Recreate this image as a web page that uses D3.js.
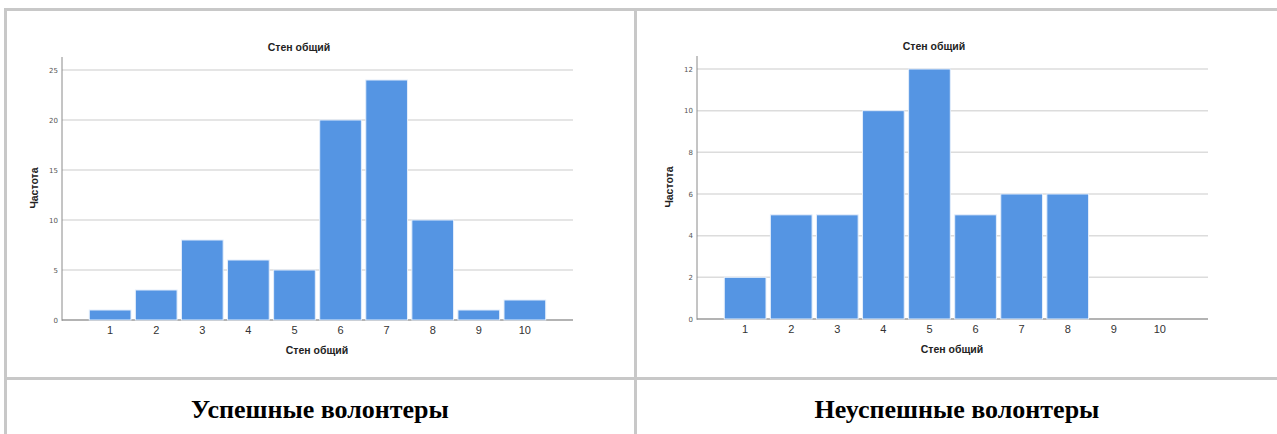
<!DOCTYPE html>
<html><head><meta charset="utf-8">
<script src="https://cdn.jsdelivr.net/npm/d3@7/dist/d3.min.js"></script>
<style>
html,body{margin:0;padding:0;background:#fff;}
svg{display:block;}
</style></head>
<body>
<svg id="c" width="1277" height="434"></svg>
<script>
const categories = ["1","2","3","4","5","6","7","8","9","10"];
const successValues = [1,3,8,6,5,20,24,10,1,2];
const failValues = [2,5,5,10,12,5,6,6,0,0];
const successTicks = [0,5,10,15,20,25];
const failTicks = [0,2,4,6,8,10,12];
const chartTitle = "Стен общий";
const yTitle = "Частота";
const panelLabels = ["Успешные волонтеры","Неуспешные волонтеры"];

const svg = d3.select("#c");
const border = "#c8c8c8";

// table borders
svg.append("rect").attr("x",4).attr("y",8).attr("width",1280).attr("height",3).attr("fill",border);
svg.append("rect").attr("x",4).attr("y",8).attr("width",3).attr("height",440).attr("fill",border);
svg.append("rect").attr("x",634).attr("y",8).attr("width",3).attr("height",440).attr("fill",border);
svg.append("rect").attr("x",4).attr("y",377).attr("width",1280).attr("height",3).attr("fill",border);

function drawChart(dx, dy, values, ticks, yMax, label) {
  const g = svg.append("g").attr("transform",`translate(${dx},${dy})`);
  const x = d3.scaleBand().domain(categories).range([87.1,547.9]).paddingInner(0.095).paddingOuter(0.0475);
  const y = d3.scaleLinear().domain([0,yMax]).range([320,70]);

  // gridlines
  g.selectAll("line.grid").data(ticks.filter(t=>t>0)).enter().append("line")
    .attr("x1",62).attr("x2",573).attr("y1",d=>y(d)).attr("y2",d=>y(d))
    .attr("stroke","#dcdcdc").attr("stroke-width",1.5);

  // baseline
  g.append("line").attr("x1",62).attr("x2",573).attr("y1",y(0)).attr("y2",y(0))
    .attr("stroke","#9a9a9a").attr("stroke-width",1.5);

  // y axis
  const yAxis = d3.axisLeft(y).tickValues(ticks).tickSize(0).tickPadding(4);
  const ya = g.append("g").attr("transform","translate(62,0)").call(yAxis);
  ya.select(".domain").remove();
  ya.selectAll("text").attr("font-family","DejaVu Sans, sans-serif").attr("font-size",7).attr("fill","#555");
  g.append("line").attr("x1",62).attr("x2",62).attr("y1",57).attr("y2",y(0)+0.75)
    .attr("stroke","#8a8a8a").attr("stroke-width",1);

  // bars
  g.selectAll("rect.bar").data(values).enter().append("rect")
    .attr("x",(d,i)=>x(categories[i]))
    .attr("width",x.bandwidth())
    .attr("y",d=>y(d))
    .attr("height",d=>y(0)-y(d))
    .attr("fill","#5595e3")
    .attr("stroke","#e4eefb").attr("stroke-width",1);

  // x axis labels
  const xAxis = d3.axisBottom(x).tickSize(0).tickPadding(6);
  const xa = g.append("g").attr("transform",`translate(0,${y(0)})`).call(xAxis);
  xa.select(".domain").remove();
  xa.selectAll("text").attr("font-family","Liberation Sans, sans-serif").attr("font-size",11).attr("fill","#333");

  // titles
  g.append("text").attr("x",299).attr("y",51).attr("text-anchor","middle")
    .attr("font-family","Liberation Sans, sans-serif").attr("font-weight","bold").attr("font-size",10.5)
    .attr("fill","#222").text(chartTitle);
  g.append("text").attr("x",317).attr("y",354).attr("text-anchor","middle")
    .attr("font-family","Liberation Sans, sans-serif").attr("font-weight","bold").attr("font-size",10.5)
    .attr("fill","#222").text(chartTitle);
  g.append("text").attr("transform","translate(38,188) rotate(-90)").attr("text-anchor","middle")
    .attr("font-family","Liberation Sans, sans-serif").attr("font-weight","bold").attr("font-size",10.5)
    .attr("fill","#222").text(yTitle);

  // panel label
  svg.append("text").attr("x",320+dx+(dx?2:0)).attr("y",418).attr("text-anchor","middle")
    .attr("font-family","Liberation Serif, serif").attr("font-weight","bold").attr("font-size",26)
    .attr("fill","#000").text(label);
}

drawChart(0, 0, successValues, successTicks, 25, panelLabels[0]);
drawChart(635, -1, failValues, failTicks, 12, panelLabels[1]);
</script>
</body></html>
